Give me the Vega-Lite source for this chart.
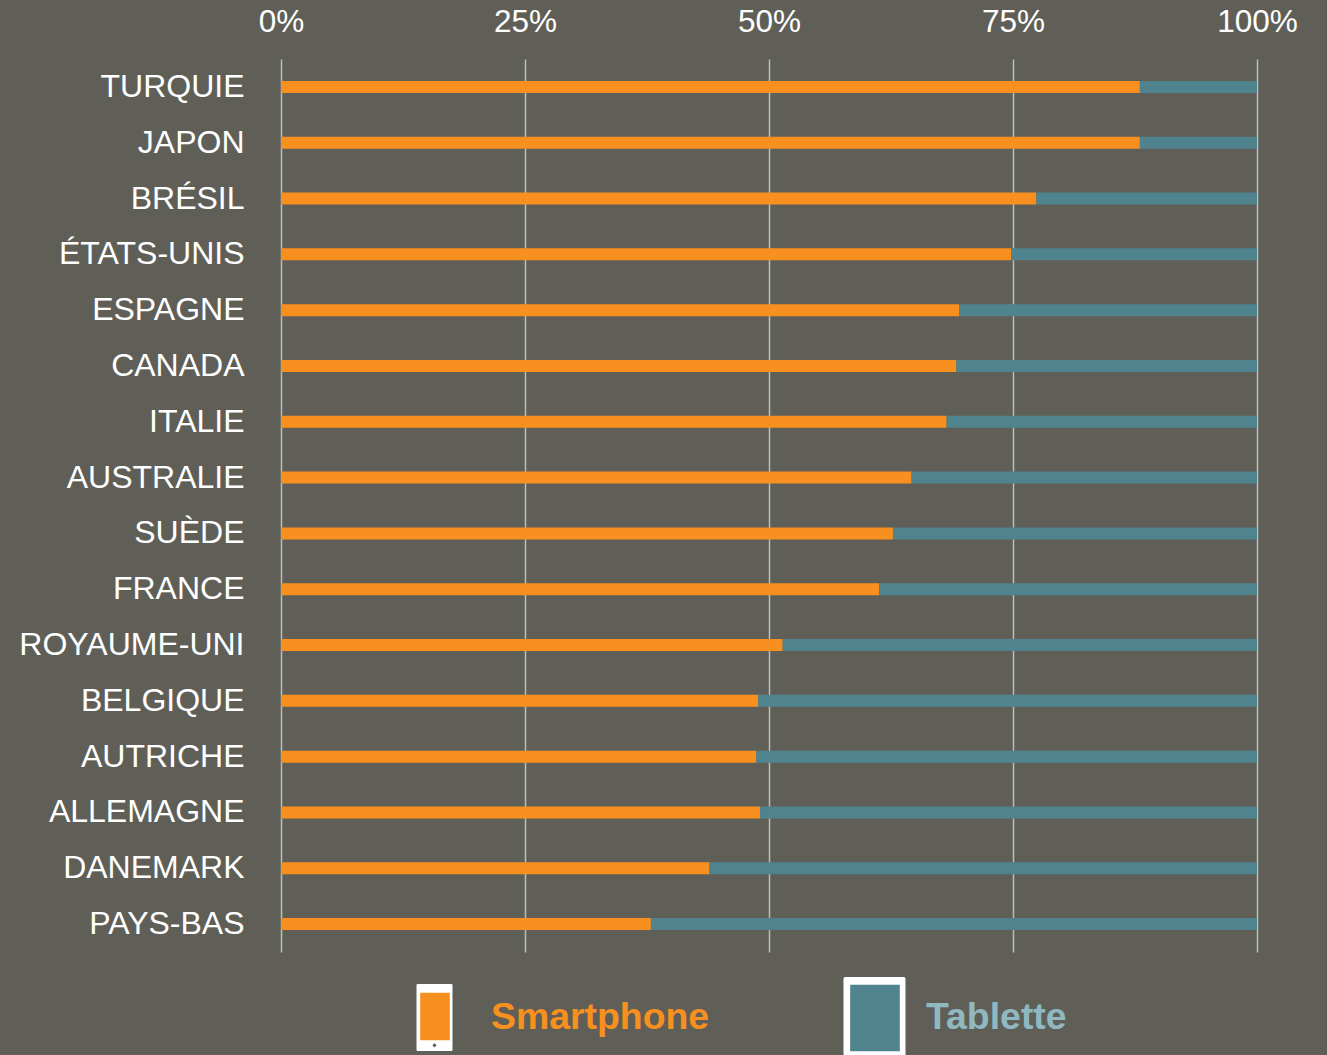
{"$schema":"https://vega.github.io/schema/vega-lite/v6.json","width":976,"height":893,"autosize":"none","padding":{"left":281,"top":59,"right":70,"bottom":103},"background":"#5F5F58","config":{"view":{"stroke":null},"font":"Liberation Sans"},"data":{"values":[{"p":"TURQUIE","s":"Smartphone","d":"Smartphone","v":88},{"p":"TURQUIE","s":"Tablette","d":"Tablette","v":12},{"p":"JAPON","s":"Smartphone","d":"Smartphone","v":88},{"p":"JAPON","s":"Tablette","d":"Tablette","v":12},{"p":"BRÉSIL","s":"Smartphone","d":"Smartphone","v":77.4},{"p":"BRÉSIL","s":"Tablette","d":"Tablette","v":22.6},{"p":"ÉTATS-UNIS","s":"Smartphone","d":"Smartphone","v":74.8},{"p":"ÉTATS-UNIS","s":"Tablette","d":"Tablette","v":25.2},{"p":"ESPAGNE","s":"Smartphone","d":"Smartphone","v":69.5},{"p":"ESPAGNE","s":"Tablette","d":"Tablette","v":30.5},{"p":"CANADA","s":"Smartphone","d":"Smartphone","v":69.2},{"p":"CANADA","s":"Tablette","d":"Tablette","v":30.8},{"p":"ITALIE","s":"Smartphone","d":"Smartphone","v":68.2},{"p":"ITALIE","s":"Tablette","d":"Tablette","v":31.8},{"p":"AUSTRALIE","s":"Smartphone","d":"Smartphone","v":64.6},{"p":"AUSTRALIE","s":"Tablette","d":"Tablette","v":35.4},{"p":"SUÈDE","s":"Smartphone","d":"Smartphone","v":62.7},{"p":"SUÈDE","s":"Tablette","d":"Tablette","v":37.3},{"p":"FRANCE","s":"Smartphone","d":"Smartphone","v":61.3},{"p":"FRANCE","s":"Tablette","d":"Tablette","v":38.7},{"p":"ROYAUME-UNI","s":"Smartphone","d":"Smartphone","v":51.4},{"p":"ROYAUME-UNI","s":"Tablette","d":"Tablette","v":48.6},{"p":"BELGIQUE","s":"Smartphone","d":"Smartphone","v":48.9},{"p":"BELGIQUE","s":"Tablette","d":"Tablette","v":51.1},{"p":"AUTRICHE","s":"Smartphone","d":"Smartphone","v":48.7},{"p":"AUTRICHE","s":"Tablette","d":"Tablette","v":51.3},{"p":"ALLEMAGNE","s":"Smartphone","d":"Smartphone","v":49.1},{"p":"ALLEMAGNE","s":"Tablette","d":"Tablette","v":50.9},{"p":"DANEMARK","s":"Smartphone","d":"Smartphone","v":43.9},{"p":"DANEMARK","s":"Tablette","d":"Tablette","v":56.1},{"p":"PAYS-BAS","s":"Smartphone","d":"Smartphone","v":37.9},{"p":"PAYS-BAS","s":"Tablette","d":"Tablette","v":62.1}]},"mark":{"type":"bar","size":12},"encoding":{"y":{"field":"p","type":"nominal","sort":null,"title":null,"axis":{"domain":false,"ticks":false,"grid":false,"labelFontSize":32,"labelColor":"#ffffff","labelPadding":37,"labelLimit":300}},"x":{"field":"v","type":"quantitative","stack":"zero","title":null,"scale":{"domain":[0,100],"nice":false},"axis":{"orient":"top","values":[0,25,50,75,100],"labelExpr":"datum.value + '%'","domain":false,"ticks":false,"grid":true,"gridColor":"#BDBDBD","gridWidth":1.5,"labelFontSize":31.5,"labelColor":"#ffffff","labelPadding":21,"labelFlush":false}},"opacity":{"field":"d","type":"nominal","title":null,"scale":{"range":[1,1]},"legend":{"orient":"none","legendX":124,"legendY":924,"direction":"horizontal","columns":2,"columnPadding":130,"symbolSize":4900,"labelOffset":16,"labelFontSize":37.4,"labelFontWeight":"bold","labelLimit":400,"labelOpacity":0,"symbolStrokeWidth":0,"encoding":{"symbols":{"fill":{"value":"#ffffff"},"stroke":{"value":"transparent"},"opacity":{"value":1},"shape":{"value":{"expr":"datum.value === 'Smartphone' ? 'M-1 -1.2L-1 -1.2ZM1 1.2L1 1.2ZM-0.64 -0.971H0.327Q0.357 -0.971 0.357 -0.941V0.913Q0.357 0.943 0.327 0.943H-0.64Q-0.671 0.943 -0.671 0.913V-0.941Q-0.671 -0.971 -0.64 -0.971ZM-0.566 -0.723V0.637H0.28V-0.723ZM-0.157 0.72L-0.217 0.78L-0.157 0.84L-0.097 0.78Z' : 'M-1 -1.2L-1 -1.2ZM1 1.2L1 1.2ZM-0.85 -1.171H0.82Q0.871 -1.171 0.871 -1.12V1.2H-0.9V-1.12Q-0.9 -1.171 -0.85 -1.171ZM-0.709 -0.951V0.951H0.709V-0.951Z'"}}}}}},"color":{"field":"s","type":"nominal","title":null,"scale":{"domain":["Smartphone","Tablette"],"range":["#F7901E","#4F838E"]},"legend":{"orient":"none","legendX":124,"legendY":924,"direction":"horizontal","columns":2,"columnPadding":130,"symbolSize":4900,"labelOffset":16,"labelFontSize":37.4,"labelFontWeight":"bold","labelLimit":400,"symbolStrokeWidth":0,"symbolOpacity":1,"encoding":{"labels":{"fill":{"value":{"expr":"datum.value === 'Smartphone' ? '#F7901E' : '#8FB8C0'"}}},"symbols":{"stroke":{"value":"transparent"},"shape":{"value":{"expr":"datum.value === 'Smartphone' ? 'M-1 -1.2L-1 -1.2ZM1 1.2L1 1.2ZM-0.586 -0.743H0.3V0.657H-0.586Z' : 'M-1 -1.2L-1 -1.2ZM1 1.2L1 1.2ZM-0.729 -0.971H0.729V0.971H-0.729Z'"}}}}}}}}
